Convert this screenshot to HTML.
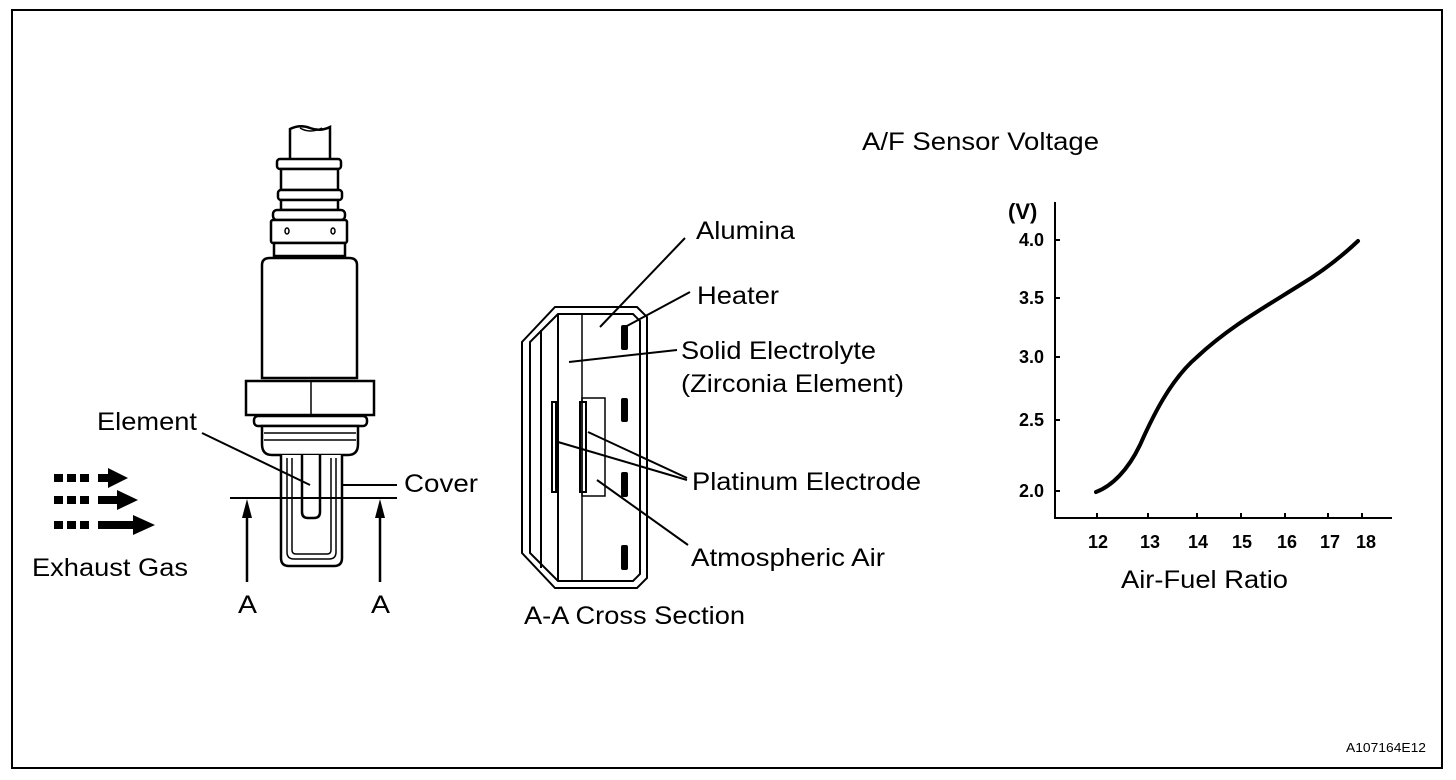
<!DOCTYPE html>
<html><head><meta charset="utf-8"><style>
html,body{margin:0;padding:0;background:#fff}
svg{display:block}
text{font-family:"Liberation Sans",Arial,sans-serif;fill:#000}
</style></head><body>
<svg width="1456" height="780" viewBox="0 0 1456 780" xmlns="http://www.w3.org/2000/svg">
<rect x="12" y="10" width="1430" height="758" fill="#fff" stroke="#000" stroke-width="2"/>
<g fill="#fff" stroke="#000" stroke-width="2.5">
 <path d="M290,159 V129 Q300,124 310,128 Q320,132 330,127 V159"/>
 <path d="M300,128 Q310,134 322,128" fill="none" stroke-width="1.5"/>
 <rect x="277" y="159" width="64" height="10" rx="3"/>
 <rect x="281" y="169" width="57" height="21"/>
 <rect x="278" y="190" width="64" height="10" rx="3"/>
 <rect x="281" y="200" width="57" height="10"/>
 <rect x="273" y="210" width="72" height="10" rx="4"/>
 <rect x="271" y="220" width="76" height="23" rx="2"/>
 <rect x="274" y="243" width="71" height="13"/>
 <path d="M262,265 Q262,258 270,258 H349 Q357,258 357,265 V378 H262 Z"/>
 <rect x="246" y="381" width="128" height="34"/>
 <rect x="254" y="416" width="113" height="10" rx="4"/>
 <path d="M262,426 H358 V444 Q358,455 348,455 H272 Q262,455 262,444 Z"/>
 <path d="M281,455 V558 Q281,566 289,566 H334 Q342,566 342,558 V455"/>
 <path d="M302,455 V512 Q302,518 308,518 H314 Q320,518 320,512 V455"/>
</g>
<g stroke="#000" fill="none" stroke-width="1.5">
 <line x1="311" y1="381" x2="311" y2="415"/>
 <line x1="264" y1="433" x2="356" y2="433"/><line x1="264" y1="440" x2="356" y2="440"/>
 <path d="M287,458 V552 Q287,559 294,559 H329 Q336,559 336,552 V458"/>
 <path d="M292,458 V550 Q292,554 296,554 H327 Q331,554 331,550 V458"/>
 <ellipse cx="287" cy="231" rx="2" ry="3"/><ellipse cx="333" cy="231" rx="2" ry="3"/>
 <line x1="202" y1="433" x2="310" y2="485" stroke-width="2"/>
 <line x1="342" y1="485" x2="397" y2="485" stroke-width="2"/>
 <line x1="230" y1="498" x2="397" y2="498" stroke-width="2"/>
 <line x1="247" y1="582" x2="247" y2="515" stroke-width="2.5"/>
 <line x1="380" y1="582" x2="380" y2="515" stroke-width="2.5"/>
</g>
<polygon points="247,499 242,518 252,518" fill="#000"/>
<polygon points="380,499 375,518 385,518" fill="#000"/>
<g fill="#000">
 <rect x="54" y="474" width="9" height="8"/><rect x="67" y="474" width="9" height="8"/><rect x="80" y="474" width="9" height="8"/>
 <rect x="98" y="474" width="12" height="8"/><polygon points="108,468 128,478 108,488"/>
 <rect x="54" y="496" width="9" height="8"/><rect x="67" y="496" width="9" height="8"/><rect x="80" y="496" width="9" height="8"/>
 <rect x="98" y="496" width="20" height="8"/><polygon points="117,490 138,500 117,510"/>
 <rect x="54" y="521" width="9" height="8"/><rect x="67" y="521" width="9" height="8"/><rect x="80" y="521" width="9" height="8"/>
 <rect x="98" y="521" width="36" height="8"/><polygon points="133,515 155,525 133,535"/>
</g>
<g font-size="25">
<text x="97" y="430" textLength="100" lengthAdjust="spacingAndGlyphs">Element</text>
<text x="404" y="492" textLength="74" lengthAdjust="spacingAndGlyphs">Cover</text>
<text x="32" y="576" textLength="156" lengthAdjust="spacingAndGlyphs">Exhaust Gas</text>
<text x="238" y="613" textLength="19" lengthAdjust="spacingAndGlyphs">A</text>
<text x="371" y="613" textLength="19" lengthAdjust="spacingAndGlyphs">A</text>
</g>
<!-- cross section -->
<g fill="none" stroke="#000" stroke-width="2">
 <path d="M555,307 H637 L647,317 V578 L637,588 H555 L522,553 V342 Z"/>
 <path d="M558,314 H633 L640,321 V574 L633,581 H558 L530,553 V342 Z"/>
 <line x1="541" y1="330" x2="541" y2="568"/>
 <line x1="558" y1="314" x2="558" y2="581"/>
 <line x1="582" y1="314" x2="582" y2="581" stroke-width="1.5"/>
 <rect x="582" y="398" width="23" height="98" stroke-width="1.5"/>
 <rect x="552" y="402" width="4" height="90"/>
 <rect x="580" y="402" width="6" height="90"/>
 <line x1="600" y1="327" x2="685" y2="238"/>
 <line x1="625" y1="327" x2="690" y2="292"/>
 <line x1="569" y1="362" x2="677" y2="350"/>
 <line x1="588" y1="432" x2="687" y2="478"/>
 <line x1="558" y1="442" x2="687" y2="480"/>
 <line x1="597" y1="480" x2="688" y2="545"/>
</g>
<g fill="#000">
 <rect x="621" y="325" width="7" height="25" rx="2"/>
 <rect x="621" y="398" width="7" height="24" rx="2"/>
 <rect x="621" y="472" width="7" height="25" rx="2"/>
 <rect x="621" y="545" width="7" height="25" rx="2"/>
</g>
<g font-size="25">
<text x="696" y="239" textLength="99" lengthAdjust="spacingAndGlyphs">Alumina</text>
<text x="697" y="304" textLength="82" lengthAdjust="spacingAndGlyphs">Heater</text>
<text x="681" y="359" textLength="195" lengthAdjust="spacingAndGlyphs">Solid Electrolyte</text>
<text x="681" y="392" textLength="223" lengthAdjust="spacingAndGlyphs">(Zirconia Element)</text>
<text x="692" y="490" textLength="229" lengthAdjust="spacingAndGlyphs">Platinum Electrode</text>
<text x="691" y="566" textLength="194" lengthAdjust="spacingAndGlyphs">Atmospheric Air</text>
<text x="524" y="624" textLength="221" lengthAdjust="spacingAndGlyphs">A-A Cross Section</text>
<text x="862" y="150" textLength="237" lengthAdjust="spacingAndGlyphs">A/F Sensor Voltage</text>
<text x="1121" y="588" textLength="167" lengthAdjust="spacingAndGlyphs">Air-Fuel Ratio</text>
</g>
<!-- chart -->
<g stroke="#000" stroke-width="2" fill="none">
 <path d="M1055,202 V518 H1392"/>
 <path d="M1055,240 h5 M1055,298 h5 M1055,357 h5 M1055,420 h5 M1055,491 h5"/>
 <path d="M1097,518 v-5 M1148,518 v-5 M1197,518 v-5 M1241,518 v-5 M1285,518 v-5 M1328,518 v-5 M1362,518 v-5"/>
 <path d="M1096,492 C1112,486 1128,470 1140,445 C1152,418 1170,380 1197,357 C1228,328 1260,310 1300,285 C1320,273 1340,258 1358,241" stroke-width="4" stroke-linecap="round"/>
</g>
<g font-size="18" font-weight="bold" text-anchor="end">
 <text x="1044" y="246">4.0</text><text x="1044" y="304">3.5</text><text x="1044" y="363">3.0</text><text x="1044" y="426">2.5</text><text x="1044" y="497">2.0</text>
</g>
<text x="1008" y="219" font-size="22" font-weight="bold">(V)</text>
<g font-size="18" font-weight="bold" text-anchor="middle">
 <text x="1098" y="548">12</text><text x="1150" y="548">13</text><text x="1198" y="548">14</text><text x="1242" y="548">15</text><text x="1287" y="548">16</text><text x="1330" y="548">17</text><text x="1366" y="548">18</text>
</g>
<text x="1346" y="752" font-size="13" textLength="80" lengthAdjust="spacingAndGlyphs">A107164E12</text>
</svg>
</body></html>
